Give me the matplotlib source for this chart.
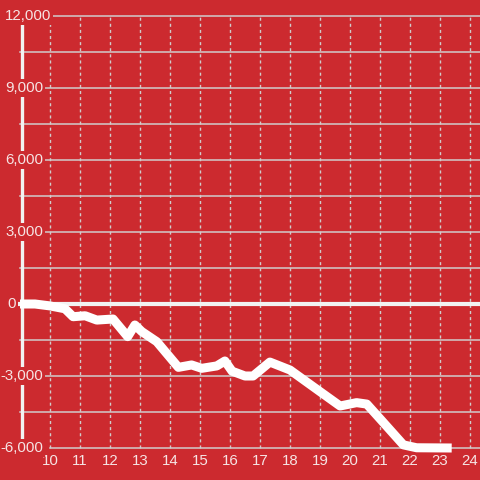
import matplotlib
matplotlib.use('Agg')
import matplotlib.pyplot as plt

plt.rcParams['font.family'] = ['Liberation Sans', 'DejaVu Sans']

# data
x_vals = [9.0, 9.5, 10.0, 10.5, 10.77, 11.17, 11.56, 12.1, 12.59, 12.83, 13.06, 13.56,
          14.28, 14.72, 15.06, 15.56, 15.83, 16.07, 16.5, 16.77, 17.33, 18.0, 19.0,
          19.67, 20.22, 20.56, 21.0, 21.78, 22.22, 23.39]
y_vals = [0, 0, -80, -200, -530, -490, -670, -625, -1360, -875, -1150, -1570,
          -2640, -2540, -2680, -2580, -2375, -2800, -3000, -3000, -2420, -2750, -3650,
          -4250, -4110, -4170, -4780, -5870, -5990, -6000]
y_ticks = [-6000, -3000, 0, 3000, 6000, 9000, 12000]
y_grid = [-6000 + 1500 * i for i in range(13)]
x_ticks = list(range(10, 25))

BG = '#cc2a2f'
GRID = '#d0cccc'
TXT = '#f6e4e4'

fig = plt.figure(figsize=(4.8, 4.8), dpi=100)
fig.patch.set_facecolor(BG)
ax = fig.add_axes([20 / 480, 32 / 480, 460 / 480, 432 / 480])
ax.set_facecolor(BG)
ax.set_xlim(9, 9 + 460 / 30)
ax.set_ylim(-6000, 12000)
for s in ax.spines.values():
    s.set_visible(False)

# grid
for g in y_grid:
    if g == -6000:
        ax.plot([10, 24.4], [g, g], color=GRID, lw=1.1, zorder=1, clip_on=False)
    else:
        ax.axhline(g, color=GRID, lw=1.1, zorder=1, clip_on=False)
for xv in x_ticks:
    ax.plot([xv, xv], [-6000, 12000], color=GRID, lw=1.0, ls=(0, (2.2, 2.2)),
            zorder=1, clip_on=False)

# left axis and zero line
ax.plot([9.05, 9.05], [-6000, 11800], color='#f2f2f2', lw=2.4, zorder=2, clip_on=False)
ax.plot([8.93, 24.4], [0, 0], color='#f2f2f2', lw=3.0, zorder=2, clip_on=False)

# series
ax.plot(x_vals, y_vals, color='white', lw=6.5, solid_capstyle='butt',
        solid_joinstyle='round', zorder=4, clip_on=False)

# y labels with background boxes (right edges as in the reference, px)
right_px = {-6000: 43, -3000: 43, 0: 16, 3000: 43, 6000: 43, 9000: 43, 12000: 51}
for t in y_ticks:
    ax.text(9 + (right_px[t] - 20) / 30, t, f'{t:,}', ha='right', va='center',
            fontsize=10.8, color=TXT, zorder=5,
            bbox=dict(facecolor=BG, edgecolor='none', pad=1.5))
ax.set_yticks([])

ax.set_xticks(x_ticks)
ax.set_xticklabels([str(v) for v in x_ticks])
ax.tick_params(axis='x', length=0, pad=4, labelsize=10.8, labelcolor=TXT)

fig.savefig('out.png', dpi=100, facecolor=BG)
